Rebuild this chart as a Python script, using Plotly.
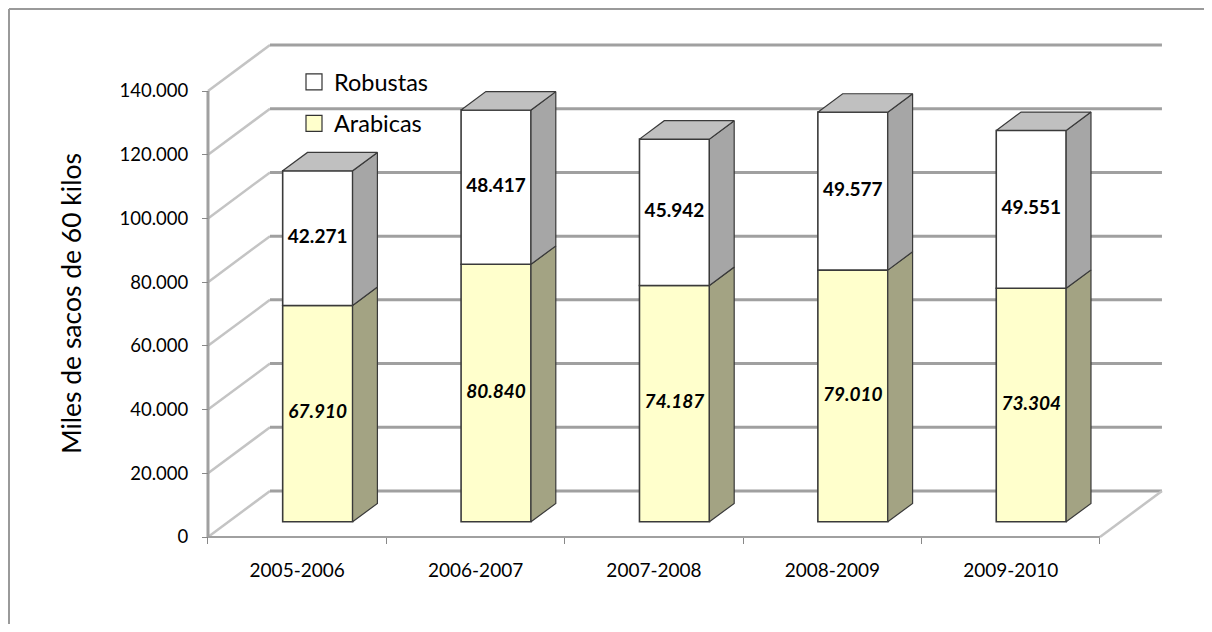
import plotly.graph_objects as go

# datos (miles de sacos de 60 kilos)
temporadas = ["2005-2006", "2006-2007", "2007-2008", "2008-2009", "2009-2010"]
arabicas = [67910, 80840, 74187, 79010, 73304]
robustas = [42271, 48417, 45942, 49577, 49551]
y_ticks = [0, 20000, 40000, 60000, 80000, 100000, 120000, 140000]

# la pagina tiene 8px de margen en el body: la figura se reduce para caber en 1212x632
OFF = 8
W, H = 1212 - OFF, 632 - 2 * OFF
ML, MT = 203 - OFF, 42 - OFF
MR = W - (1164 - OFF)
MB = H - (542 - OFF)

# perspectiva (pseudo 3D, en unidades de los ejes)
DX = 0.3475          # profundidad horizontal
DY = 14440           # profundidad vertical
A, B = 0.33, 0.73    # posicion delantera / trasera de las barras en la profundidad
BAR_W = 0.392
X_LEFT, X_RIGHT = -0.528, 4.859
Y_LOW, Y_TOP = -1570, 155380


def fmt(v):
    return f"{v:,}".replace(",", ".")


def px_x(px):
    return (px - OFF - ML) / (W - ML - MR)


def px_y(py):
    return (H - MB - (py - OFF)) / (H - MT - MB)


xs = list(range(len(temporadas)))
x_front = [x + A * DX for x in xs]
base = A * DY
ddx, ddy = (B - A) * DX, (B - A) * DY

fig = go.Figure()

# caras frontales
fig.add_trace(go.Bar(
    x=x_front, y=arabicas, base=[base] * len(xs), width=BAR_W,
    marker=dict(color="#FFFFCC", line=dict(color="#3a3a3a", width=1.6)),
    showlegend=False, hoverinfo="skip",
))
fig.add_trace(go.Bar(
    x=x_front, y=robustas, base=[base + a for a in arabicas], width=BAR_W,
    marker=dict(color="#FFFFFF", line=dict(color="#3a3a3a", width=1.6)),
    showlegend=False, hoverinfo="skip",
))


def side(y0s, y1s):
    px, py = [], []
    for xf, y0, y1 in zip(x_front, y0s, y1s):
        xr = xf + BAR_W / 2
        px += [xr, xr + ddx, xr + ddx, xr, xr, None]
        py += [y0, y0 + ddy, y1 + ddy, y1, y0, None]
    return px, py


tops = [base + a + r for a, r in zip(arabicas, robustas)]
sx, sy = side([base] * len(xs), [base + a for a in arabicas])
fig.add_trace(go.Scatter(x=sx, y=sy, mode="lines", fill="toself", fillcolor="#A3A383",
                         line=dict(color="#3a3a3a", width=1.2), showlegend=False, hoverinfo="skip"))
sx, sy = side([base + a for a in arabicas], tops)
fig.add_trace(go.Scatter(x=sx, y=sy, mode="lines", fill="toself", fillcolor="#A6A6A6",
                         line=dict(color="#3a3a3a", width=1.2), showlegend=False, hoverinfo="skip"))

tx, ty = [], []
for xf, t in zip(x_front, tops):
    xl, xr = xf - BAR_W / 2, xf + BAR_W / 2
    tx += [xl, xr, xr + ddx, xl + ddx, xl, None]
    ty += [t, t, t + ddy, t + ddy, t, None]
fig.add_trace(go.Scatter(x=tx, y=ty, mode="lines", fill="toself", fillcolor="#C0C0C0",
                         line=dict(color="#3a3a3a", width=1.2), showlegend=False, hoverinfo="skip"))

# etiquetas de datos
fig.add_trace(go.Scatter(
    x=x_front, y=[base + a / 2 for a in arabicas], mode="text",
    text=[fmt(a) for a in arabicas],
    textfont=dict(family="Lato", size=19, color="#000", weight="bold", style="italic"),
    showlegend=False, hoverinfo="skip",
))
fig.add_trace(go.Scatter(
    x=x_front, y=[base + a + r / 2 for a, r in zip(arabicas, robustas)], mode="text",
    text=[fmt(r) for r in robustas],
    textfont=dict(family="Lato", size=19, color="#000", weight="bold"),
    showlegend=False, hoverinfo="skip",
))

# leyenda
for name, color in [("Robustas", "#FFFFFF"), ("Arabicas", "#FFFFCC")]:
    fig.add_trace(go.Scatter(
        x=[None], y=[None], mode="markers", name=name, legendgroup=name,
        marker=dict(symbol="square", size=16, color=color, line=dict(color="#333", width=1.2)),
    ))

# paredes y rejilla
x0, x1 = -0.5, len(xs) - 0.5
shapes = []
for v in y_ticks:
    shapes.append(dict(type="line", xref="x", yref="y", x0=x0, y0=v, x1=x0 + DX, y1=v + DY,
                       line=dict(color="#C4C4C4", width=2.5), layer="below"))
    shapes.append(dict(type="line", xref="x", yref="y", x0=x0 + DX, y0=v + DY, x1=x1 + DX, y1=v + DY,
                       line=dict(color="#A0A0A0", width=3), layer="below"))
shapes.append(dict(type="line", xref="x", yref="y", x0=x1, y0=0, x1=x1 + DX, y1=DY,
                   line=dict(color="#C4C4C4", width=2.5), layer="below"))
shapes.append(dict(type="line", xref="x", yref="y", x0=x0, y0=0, x1=x1, y1=0,
                   line=dict(color="#A0A0A0", width=2), layer="below"))
shapes.append(dict(type="line", xref="x", yref="y", x0=x0, y0=0, x1=x0, y1=y_ticks[-1],
                   line=dict(color="#A0A0A0", width=3), layer="below"))
# borde del grafico (izquierda, arriba, derecha)
border = dict(color="#9a9a9a", width=2)
bl, bt, br, bb = px_x(9), px_y(9), px_x(1210), px_y(640)
shapes.append(dict(type="line", xref="paper", yref="paper", x0=bl, x1=bl, y0=bb, y1=bt, line=border))
shapes.append(dict(type="line", xref="paper", yref="paper", x0=bl, x1=br, y0=bt, y1=bt, line=border))
shapes.append(dict(type="line", xref="paper", yref="paper", x0=br, x1=br, y0=bb, y1=bt, line=border))

fig.update_layout(
    width=W, height=H,
    margin=dict(l=ML, r=MR, t=MT, b=MB),
    paper_bgcolor="white", plot_bgcolor="white",
    barmode="overlay",
    separators=",.",
    font=dict(family="Lato", color="#000"),
    shapes=shapes,
    showlegend=True,
    legend=dict(x=px_x(294), y=px_y(60), xanchor="left", yanchor="top",
                traceorder="grouped", tracegroupgap=8,
                font=dict(family="Lato", size=23.5, color="#000"),
                bgcolor="rgba(0,0,0,0)"),
    annotations=[dict(
        text="Miles de sacos de 60 kilos", xref="paper", yref="paper",
        x=px_x(71), y=px_y(304), xanchor="center", yanchor="middle",
        textangle=-90, showarrow=False,
        font=dict(family="Lato", size=26.5, color="#000"),
    )],
)

fig.update_xaxes(
    range=[X_LEFT, X_RIGHT], anchor="free", position=5 / (H - MT - MB),
    tickmode="array", tickvals=xs, ticktext=temporadas,
    ticks="", ticklabelstandoff=20,
    minor=dict(tickmode="array", tickvals=[x0 + i for i in range(len(xs) + 1)],
               ticks="outside", ticklen=6, tickcolor="#888", tickwidth=1),
    tickfont=dict(family="Lato", size=19, color="#000"),
    showgrid=False, zeroline=False, showline=False, fixedrange=True,
)
fig.update_yaxes(
    range=[Y_LOW, Y_TOP], anchor="free", position=5 / (W - ML - MR),
    tickmode="array", tickvals=y_ticks, ticktext=[fmt(v) for v in y_ticks],
    ticks="outside", ticklen=6, tickcolor="#888", tickwidth=1, ticklabelstandoff=10,
    tickfont=dict(family="Lato", size=18.5, color="#000"),
    showgrid=False, zeroline=False, showline=False, fixedrange=True,
)

fig.write_html("out.html")
